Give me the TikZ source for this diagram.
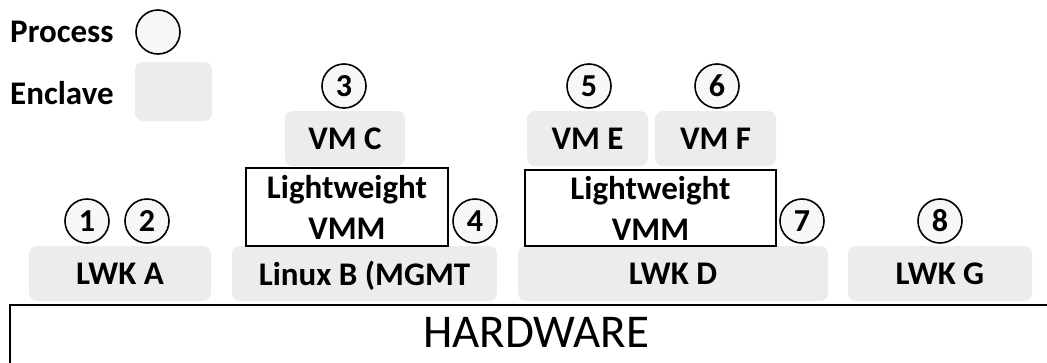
\documentclass[tikz,border=0pt]{standalone}
\usepackage{fontspec}
\setmainfont{Carlito}
\usetikzlibrary{shapes}

\begin{document}
\begin{tikzpicture}[x=1pt, y=-1pt,
enclave/.style={rectangle, rounded corners=8pt, fill=gray!15, draw=none, inner sep=0pt, text depth=0pt, font=\fontsize{33}{38}\selectfont\bfseries},
process/.style={circle, fill=gray!6, draw=black, line width=1.6pt, minimum size=44pt, inner sep=0pt, font=\fontsize{32}{38}\selectfont\bfseries},
vmm/.style={rectangle, draw=black, line width=1.6pt, fill=white, align=center, inner sep=0pt, font=\fontsize{33}{41}\selectfont\bfseries},
legend/.style={anchor=west, inner sep=0pt, font=\fontsize{33}{38}\selectfont\bfseries},
hw/.style={rectangle, draw=black, line width=2pt, fill=white, inner sep=0pt},
]

\useasboundingbox (0,0) rectangle (1047,362);

% legend
\node[legend] at (10,32) (lgprocess) []{Process};
\node[process] at (158,32) (lgcircle) []{};
\node[legend] at (10,93) (lgenclave) []{Enclave};
\node[enclave, minimum width=77pt, minimum height=59pt] at (173.5,91.5) (lgbox) []{};

% hardware
\node[hw, anchor=north west, minimum width=1060pt, minimum height=66pt] at (9,304) (hardware) []{};
\node[inner sep=0pt, font=\fontsize{47}{52}\selectfont] at (536,332) (hwtext) []{HARDWARE};

% kernels
\node[enclave, minimum width=182pt, minimum height=55pt] at (120,273.5) (lwka) []{LWK A};
\node[enclave, minimum width=265pt, minimum height=55pt] at (364.5,273.5) (linuxb) []{Linux B (MGMT};
\node[enclave, minimum width=310pt, minimum height=55pt] at (673,273.5) (lwkd) []{LWK D};
\node[enclave, minimum width=184pt, minimum height=55pt] at (940,273.5) (lwkg) []{LWK G};

% lightweight VMMs
\node[vmm, minimum width=202pt, minimum height=78pt] at (347,207) (vmmb) []{Lightweight\\VMM};
\node[vmm, minimum width=251pt, minimum height=76pt] at (650.5,208) (vmmd) []{Lightweight\\VMM};

% virtual machines
\node[enclave, minimum width=120pt, minimum height=55pt] at (345,138.5) (vmc) []{VM C};
\node[enclave, minimum width=121pt, minimum height=55pt] at (587.5,138.5) (vme) []{VM E};
\node[enclave, minimum width=121pt, minimum height=55pt] at (715.5,138.5) (vmf) []{VM F};

% processes
\node[process] at (87,221) (p1) []{1};
\node[process] at (147,221) (p2) []{2};
\node[process] at (344,86) (p3) []{3};
\node[process] at (475,221) (p4) []{4};
\node[process] at (589,86) (p5) []{5};
\node[process] at (717,86) (p6) []{6};
\node[process] at (802,221) (p7) []{7};
\node[process] at (940,221) (p8) []{8};

\end{tikzpicture}
\end{document}
